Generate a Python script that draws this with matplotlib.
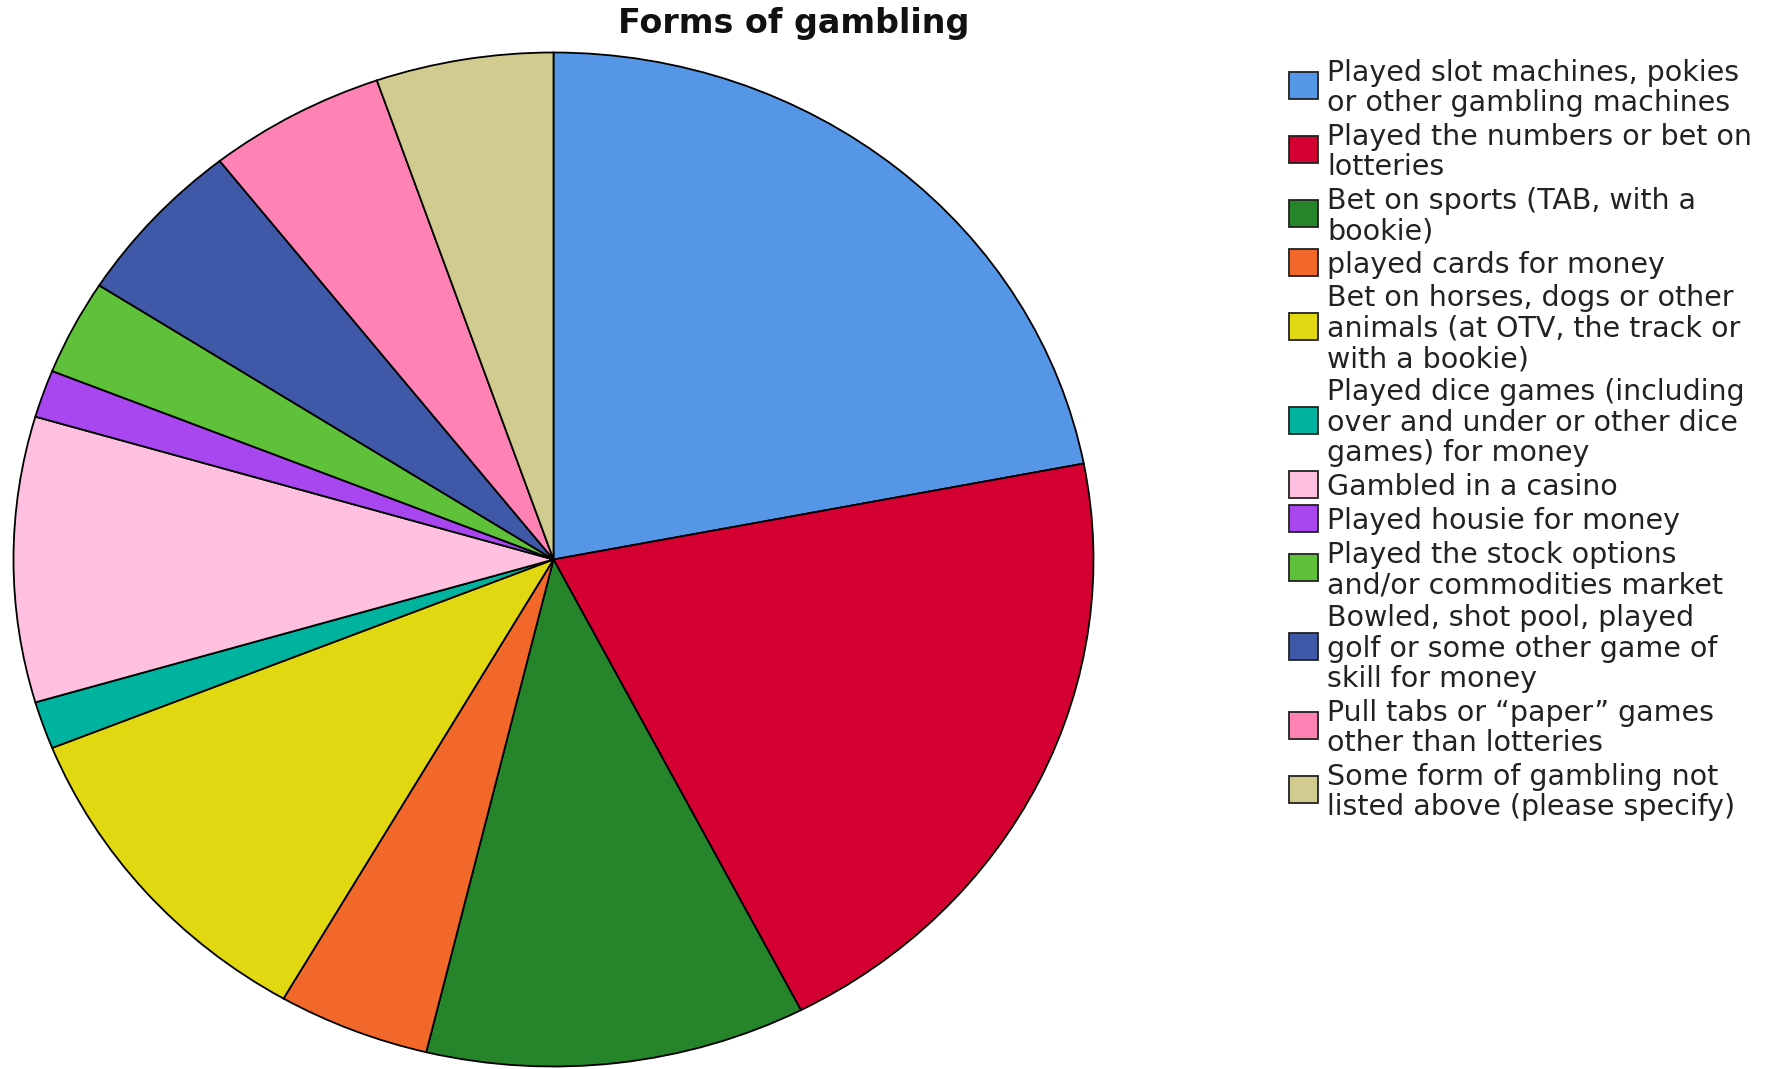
import matplotlib
matplotlib.use("Agg")
import matplotlib.pyplot as plt
from matplotlib.patches import Rectangle

# Survey responses: number of respondents reporting each form of gambling
categories = [
    "Played slot machines, pokies\nor other gambling machines",
    "Played the numbers or bet on\nlotteries",
    "Bet on sports (TAB, with a\nbookie)",
    "played cards for money",
    "Bet on horses, dogs or other\nanimals (at OTV, the track or\nwith a bookie)",
    "Played dice games (including\nover and under or other dice\ngames) for money",
    "Gambled in a casino",
    "Played housie for money",
    "Played the stock options\nand/or commodities market",
    "Bowled, shot pool, played\ngolf or some other game of\nskill for money",
    "Pull tabs or \u201cpaper\u201d games\nother than lotteries",
    "Some form of gambling not\nlisted above (please specify)",
]
counts = [29, 27, 15, 6, 14, 2, 12, 2, 4, 7, 7, 7]
colors = [
    "#5596E6", "#D50032", "#26852A", "#F2682A", "#E2D812", "#00B39E",
    "#FFC0E0", "#A846F0", "#5FC03A", "#3F59A8", "#FF82B4", "#D1CB8F",
]

W, H = 1778, 1069
fig = plt.figure(figsize=(W / 100, H / 100), dpi=100)

# Pie axes (slightly elliptical, as in the original rendering)
cx, cy, rx, ry = 553.5, 559.5, 540, 507
ax = fig.add_axes([(cx - rx) / W, (H - cy - ry) / H, 2 * rx / W, 2 * ry / H])
wedges, _ = ax.pie(
    counts, colors=colors, startangle=90, counterclock=False,
    wedgeprops=dict(edgecolor="black", linewidth=1.3),
)
for w in wedges:
    w.set_clip_on(False)
ax.set_aspect("auto")
ax.set_xlim(-1, 1)
ax.set_ylim(-1, 1)
ax.axis("off")

fig.text(794 / W, 1 - 24 / H, "Forms of gambling", ha="center", va="center",
         fontsize=24, fontweight="bold", color="#111111")

# Legend drawn entry by entry so each swatch sits beside its text block
line_h = 30.0
gap = 4.0
y = 70.3
box_x, box_w, box_h = 1289, 29, 27
text_x = 1327
for label, col in zip(categories, colors):
    n = label.count("\n") + 1
    yc = y + (n - 1) * line_h / 2
    fig.patches.append(Rectangle((box_x / W, 1 - (yc + box_h / 2) / H),
                                 box_w / W, box_h / H, transform=fig.transFigure,
                                 facecolor=col, edgecolor="#222222", linewidth=1.3))
    fig.text(text_x / W, 1 - (yc + 2.5) / H, label, ha="left", va="center",
             fontsize=20.5, linespacing=1.115, color="#222222")
    y += n * line_h + gap

fig.savefig("out.png", dpi=100, facecolor="white")
